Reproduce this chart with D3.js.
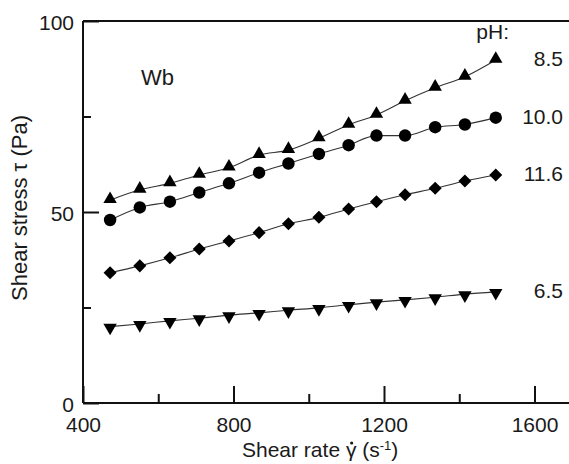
<!DOCTYPE html>
<html><head><meta charset="utf-8">
<script src="https://cdn.jsdelivr.net/npm/d3@7"></script>
<style>body{margin:0;background:#fff}svg{display:block}text{font-family:"Liberation Sans",Arial,sans-serif;fill:#1a1a1a}</style>
</head><body><svg id="c" width="569" height="464"></svg>
<script>
const shearRate = [472, 551, 631, 709, 788, 868, 946, 1027, 1106, 1180, 1256, 1336, 1415, 1497];
const ph85  = [53.1, 55.8, 57.5, 59.7, 61.6, 64.9, 66.2, 69.3, 72.8, 75.4, 79.1, 82.5, 85.4, 89.8];
const ph100 = [47.9, 51.2, 52.7, 55.1, 57.5, 60.3, 62.7, 65.2, 67.5, 70.0, 70.0, 72.2, 72.9, 74.7];
const ph116 = [34.1, 35.9, 38.0, 40.3, 42.4, 44.6, 46.9, 48.6, 50.8, 52.7, 54.5, 56.2, 58.1, 59.7];
const ph65  = [20.0, 20.7, 21.5, 22.2, 23.0, 23.6, 24.3, 24.9, 25.7, 26.4, 27.0, 27.7, 28.5, 29.1];
const seriesNames = ["8.5", "10.0", "11.6", "6.5"];
const xMajor = [400, 800, 1200, 1600];
const xMinor = [600, 1000, 1400];
const yMajor = [0, 50, 100];
const yMinor = [25, 75];

const svg = d3.select("#c");
const L = 83, R = 569, T = 21, B = 403;
const FS = 21;
const x = d3.scaleLinear().domain([400, 1600]).range([L, L + 451.5]);
const y = d3.scaleLinear().domain([0, 100]).range([B, T]);

svg.append("line").attr("x1", L).attr("x2", R).attr("y1", T).attr("y2", T).attr("stroke", "#111").attr("stroke-width", 2);

const xAxis = svg.append("g").attr("transform", `translate(0,${B})`)
  .call(d3.axisBottom(x).tickValues(xMajor).tickSize(-17).tickFormat(d3.format("d")));
xAxis.select(".domain").remove();
xAxis.append("line").attr("x1", L).attr("x2", R).attr("stroke", "#111").attr("stroke-width", 2);
xAxis.selectAll(".tick line").attr("stroke", "#111").attr("stroke-width", 2);
xAxis.selectAll(".tick text").attr("y", 29).attr("dy", null).attr("font-size", FS).style("fill", "#1a1a1a");
const xMin = svg.append("g").attr("transform", `translate(0,${B})`)
  .call(d3.axisBottom(x).tickValues(xMinor).tickSize(-9).tickFormat(""));
xMin.select(".domain").remove();
xMin.selectAll(".tick line").attr("stroke", "#111").attr("stroke-width", 2);

const yAxis = svg.append("g").attr("transform", `translate(${L},0)`)
  .call(d3.axisLeft(y).tickValues(yMajor).tickSize(-16).tickFormat(d3.format("d")));
yAxis.select(".domain").remove();
yAxis.append("line").attr("y1", T).attr("y2", B).attr("stroke", "#111").attr("stroke-width", 2);
yAxis.selectAll(".tick line").attr("stroke", "#111").attr("stroke-width", 2);
yAxis.selectAll(".tick text").attr("x", -9).attr("dy", 8).attr("font-size", FS).style("fill", "#1a1a1a");
const yMin = svg.append("g").attr("transform", `translate(${L},0)`)
  .call(d3.axisLeft(y).tickValues(yMinor).tickSize(-8).tickFormat(""));
yMin.select(".domain").remove();
yMin.selectAll(".tick line").attr("stroke", "#111").attr("stroke-width", 2);

const xt = svg.append("text").attr("x", 242).attr("y", 457).attr("font-size", FS);
xt.append("tspan").text("Shear rate ");
const gam = xt.append("tspan").text("γ");
xt.append("tspan").text(" (s");
xt.append("tspan").attr("dy", -7).attr("font-size", 13).text("-1");
xt.append("tspan").attr("dy", 7).text(")");
// dot over gamma
const gi = "Shear rate ".length;
const ext = xt.node().getExtentOfChar(gi);
svg.append("circle").attr("cx", ext.x + ext.width / 2 + 0.5).attr("cy", 443).attr("r", 1.6).attr("fill", "#1a1a1a");

svg.append("text").attr("transform", "translate(27,208) rotate(-90)").attr("text-anchor", "middle").attr("font-size", 22)
  .text("Shear stress τ (Pa)");

const sets = [ph85, ph100, ph116, ph65];
const symbols = [d3.symbolTriangle, d3.symbolCircle, d3.symbolSquare, d3.symbolTriangle];
const sizes = [78, 122, 85, 78];
const rot = [0, 0, 45, 180];
const dyOff = [-1, 0, 0, 1];
const line = d3.line().x(d => x(d[0])).y(d => y(d[1])).curve(d3.curveMonotoneX);
sets.forEach((vals, i) => {
  const pts = shearRate.map((r, j) => [r, vals[j]]);
  svg.append("path").attr("d", line(pts)).attr("fill", "none").attr("stroke", "#333").attr("stroke-width", 1.1);
  svg.append("g").selectAll("path").data(pts).join("path")
    .attr("d", d3.symbol().type(symbols[i]).size(sizes[i]))
    .attr("transform", d => `translate(${x(d[0])},${y(d[1]) + dyOff[i]}) rotate(${rot[i]})`)
    .attr("fill", "#000");
  const last = pts[pts.length - 1];
  svg.append("text").attr("x", 563).attr("y", y(last[1]) + 6).attr("text-anchor", "end").attr("font-size", FS)
    .text(seriesNames[i]);
});
svg.append("text").attr("x", 509).attr("y", 39).attr("text-anchor", "end").attr("font-size", FS).text("pH:");
svg.append("text").attr("x", 141).attr("y", 85).attr("font-size", 22).text("Wb");
</script></body></html>
